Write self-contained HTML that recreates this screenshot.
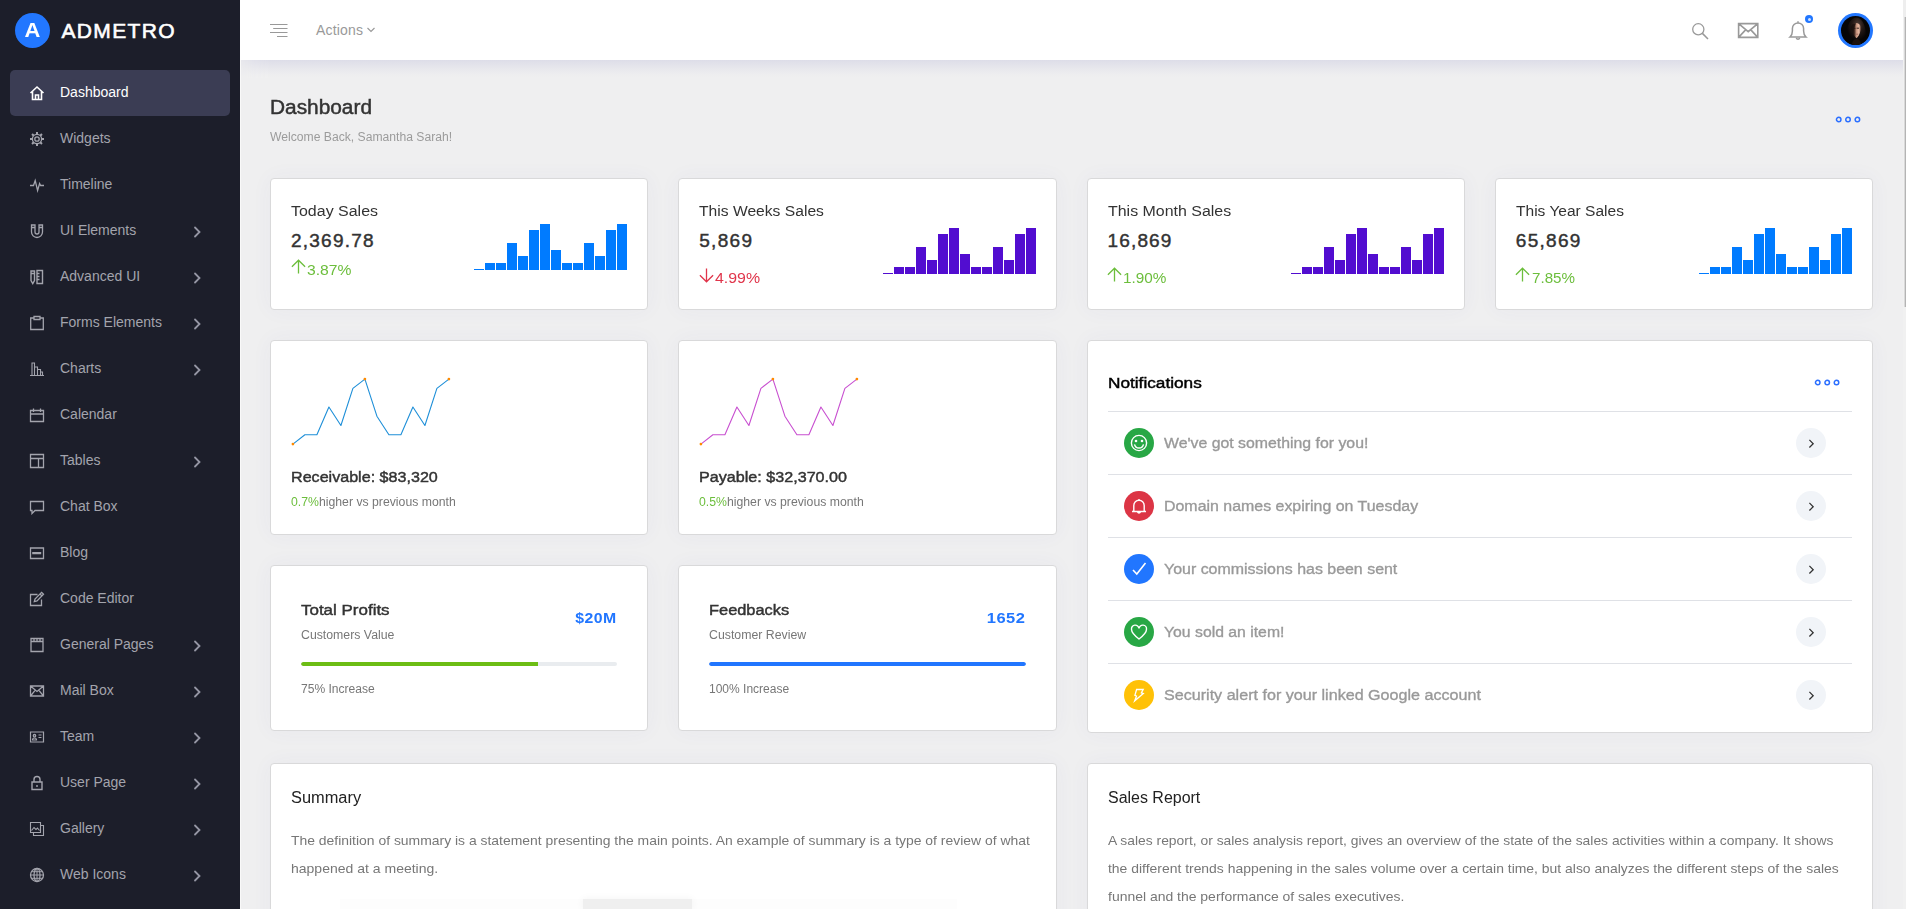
<!DOCTYPE html>
<html lang="en">
<head>
<meta charset="utf-8">
<title>Admetro - Dashboard</title>
<style>
*{box-sizing:border-box;margin:0;padding:0}
html,body{width:1906px;height:909px;overflow:hidden;background:#efeff0;font-family:"Liberation Sans",sans-serif;color:#333}
.abs{position:absolute}
#app{position:relative;width:1906px;height:909px;overflow:hidden;background:#efeff0}
/* sidebar */
#side{position:absolute;left:0;top:0;width:240px;height:909px;background:#1c1e2a;z-index:5}
.logo-c{position:absolute;left:15px;top:13px;width:35px;height:35px;border-radius:50%;background:#2277ff;color:#fff;font-weight:700;font-size:20.5px;line-height:34px;text-align:center}
.logo-c span{display:inline-block;transform:scaleX(1.07)}
.logo-t{position:absolute;left:61.5px;top:16px;height:30px;line-height:30px;color:#fff;font-weight:400;-webkit-text-stroke:.6px #fff;font-size:21px;letter-spacing:1.35px;white-space:nowrap}
.mi{position:absolute;left:10px;width:220px;height:46px;border-radius:5px;color:#a3a4ad;font-size:14px;line-height:46px;white-space:nowrap}
.mi.act{background:#3b3d54;color:#fff}
.mi .tx{position:absolute;left:50px;top:-1px}
.mi svg.ic{position:absolute;left:19px;top:15px;width:16px;height:16px;fill:none;stroke:currentColor;stroke-width:1.3}
.mi svg.ch{position:absolute;left:181.5px;top:18px;width:10px;height:12px;fill:none;stroke:#9596a4;stroke-width:1.8;stroke-linecap:round}
/* header */
#head{position:absolute;left:240px;top:0;width:1663px;height:60px;background:#fff;z-index:3}
#wl{position:absolute;left:240px;top:60px;width:1px;height:849px;background:#f9f9f9;z-index:4}
#hsh{position:absolute;left:240px;top:60px;width:1663px;height:18px;background:linear-gradient(to bottom,#dddde8 0,#e2e2ea 22%,#e8e8ed 50%,#ededef 78%,#efeff0 100%);z-index:2;-webkit-mask-image:linear-gradient(to right,rgba(0,0,0,.35) 0,rgba(0,0,0,.8) 14px,#000 30px);mask-image:linear-gradient(to right,rgba(0,0,0,.35) 0,rgba(0,0,0,.8) 14px,#000 30px)}
#sb{position:absolute;left:1903px;top:0;width:3px;height:909px;background:#f1f1f1;z-index:6}
#sb b{position:absolute;left:0;top:0;width:3px;height:17px;background:#eeeeee;display:block}
#sb i{position:absolute;left:1px;top:17px;width:2px;height:290px;background:linear-gradient(to right,#d9d9d9 0,#d9d9d9 50%,#b4b4b4 50%,#b4b4b4 100%);display:block}
.card{position:absolute;background:#fff;border:1px solid #d9d9da;border-radius:4px;box-shadow:0 0 22px rgba(80,80,160,.045)}
.t{position:absolute;white-space:nowrap}
</style>
</head>
<body>
<div id="app">

<!-- SIDEBAR -->
<div id="side">
  <div class="logo-c"><span>A</span></div>
  <div class="logo-t">ADMETRO</div>
  <div class="mi act" style="top:70px"><svg class="ic" viewBox="0 0 16 16" style="stroke-width:1.6"><path d="M1.5 8 L8 2 L14.5 8 M3.5 6.5 V14.5 H12.5 V6.5 M6.5 14.5 V10 H9.5 V14.5"/></svg><span class="tx">Dashboard</span></div>
  <div class="mi" style="top:116px"><svg class="ic" viewBox="0 0 16 16"><circle cx="8" cy="8" r="2.2"/><circle cx="8" cy="8" r="4.6"/><path d="M8 1v2.4M8 12.6V15M1 8h2.4M12.6 8H15M3.05 3.05l1.7 1.7M11.25 11.25l1.7 1.7M3.05 12.95l1.7-1.7M11.25 4.75l1.7-1.7" stroke-width="2"/></svg><span class="tx">Widgets</span></div>
  <div class="mi" style="top:162px"><svg class="ic" viewBox="0 0 16 16"><path d="M1 8.5 H4.5 L6.2 3.5 L8.6 13.5 L10.6 6.5 L11.6 8.5 H15"/></svg><span class="tx">Timeline</span></div>
  <div class="mi" style="top:208px"><svg class="ic" viewBox="0 0 16 16"><path d="M2.5 2 H6 V9 a2 2 0 0 0 4 0 V2 H13.5 V9 a5.5 5.5 0 0 1 -11 0 Z M2.5 4.5 H6 M10 4.5 H13.5"/></svg><span class="tx">UI Elements</span><svg class="ch" viewBox="0 0 10 12"><path d="M3 1.5 L7.5 6 L3 10.5"/></svg></div>
  <div class="mi" style="top:254px"><svg class="ic" viewBox="0 0 16 16"><path d="M2 2 H5.5 V11.5 L3.75 14.5 L2 11.5 Z M2 4.5 H5.5 M8 1.5 H13.5 V14.5 H8 Z M8 4.5 H10.5 M8 7.5 H10.5 M8 10.5 H10.5" stroke-width="1.4"/></svg><span class="tx">Advanced UI</span><svg class="ch" viewBox="0 0 10 12"><path d="M3 1.5 L7.5 6 L3 10.5"/></svg></div>
  <div class="mi" style="top:300px"><svg class="ic" viewBox="0 0 16 16"><path d="M5 3 H1.7 V14.5 H14.3 V3 H11 M5 1.5 H11 V4.5 H5 Z"/></svg><span class="tx">Forms Elements</span><svg class="ch" viewBox="0 0 10 12"><path d="M3 1.5 L7.5 6 L3 10.5"/></svg></div>
  <div class="mi" style="top:346px"><svg class="ic" viewBox="0 0 16 16"><path d="M1 14.5 H15 M3 14.5 V2 H5.5 V14.5 M5.5 6 H8.5 V14.5 M8.5 8.5 H11.5 V14.5 M11.5 11 H13.5 V14.5" stroke-width="1.1"/></svg><span class="tx">Charts</span><svg class="ch" viewBox="0 0 10 12"><path d="M3 1.5 L7.5 6 L3 10.5"/></svg></div>
  <div class="mi" style="top:392px"><svg class="ic" viewBox="0 0 16 16"><path d="M1.5 3.5 H14.5 V14.5 H1.5 Z M1.5 7 H14.5 M4.5 1.5 V5 M11.5 1.5 V5"/></svg><span class="tx">Calendar</span></div>
  <div class="mi" style="top:438px"><svg class="ic" viewBox="0 0 16 16"><path d="M1.5 1.5 H14.5 V14.5 H1.5 Z M1.5 5.5 H14.5 M9.5 5.5 V14.5"/></svg><span class="tx">Tables</span><svg class="ch" viewBox="0 0 10 12"><path d="M3 1.5 L7.5 6 L3 10.5"/></svg></div>
  <div class="mi" style="top:484px"><svg class="ic" viewBox="0 0 16 16"><path d="M1.5 2.5 H14.5 V11.5 H6 L3 14.5 V11.5 H1.5 Z"/></svg><span class="tx">Chat Box</span></div>
  <div class="mi" style="top:530px"><svg class="ic" viewBox="0 0 16 16"><path d="M1.5 3 H14.5 V13.5 H1.5 Z M3.2 8.6 H12.2 M3.2 7.6 H12.2" stroke-width="1.3"/></svg><span class="tx">Blog</span></div>
  <div class="mi" style="top:576px"><svg class="ic" viewBox="0 0 16 16"><path d="M12.5 8.5 V14.5 H1.5 V3.5 H8.5 M14.5 3.2 L12.6 1.3 L6 8 L5.3 10.7 L8 10 Z M11 3 L13 5"/></svg><span class="tx">Code Editor</span></div>
  <div class="mi" style="top:622px"><svg class="ic" viewBox="0 0 16 16"><path d="M2 1.5 H14 V14.5 H2 Z M2 4.5 H14 M5 1.5 V4.5 M8 1.5 V4.5 M11 1.5 V4.5"/></svg><span class="tx">General Pages</span><svg class="ch" viewBox="0 0 10 12"><path d="M3 1.5 L7.5 6 L3 10.5"/></svg></div>
  <div class="mi" style="top:668px"><svg class="ic" viewBox="0 0 16 16"><path d="M1.5 3 H14.5 V13 H1.5 Z M1.5 3 L8 8.5 L14.5 3 M1.5 13 L6.3 7.2 M14.5 13 L9.7 7.2"/></svg><span class="tx">Mail Box</span><svg class="ch" viewBox="0 0 10 12"><path d="M3 1.5 L7.5 6 L3 10.5"/></svg></div>
  <div class="mi" style="top:714px"><svg class="ic" viewBox="0 0 16 16"><path d="M1.5 3 H14.5 V13 H1.5 Z M3.5 11 a2 2 0 0 1 4 0 Z M9.5 6 H12.5 M9.5 8.5 H12.5" stroke-width="1.2"/><circle cx="5.5" cy="6.7" r="1.2"/></svg><span class="tx">Team</span><svg class="ch" viewBox="0 0 10 12"><path d="M3 1.5 L7.5 6 L3 10.5"/></svg></div>
  <div class="mi" style="top:760px"><svg class="ic" viewBox="0 0 16 16"><path d="M3 7 H13 V14.5 H3 Z M5 7 V4.5 a3 3 0 0 1 6 0 V7 M8 10 V12" stroke-width="1.4"/></svg><span class="tx">User Page</span><svg class="ch" viewBox="0 0 10 12"><path d="M3 1.5 L7.5 6 L3 10.5"/></svg></div>
  <div class="mi" style="top:806px"><svg class="ic" viewBox="0 0 16 16"><path d="M1.5 1.5 H11.5 V11.5 H1.5 Z M4.5 11.5 V14.5 H14.5 V4.5 H11.5 M2.5 9.5 L5 6.5 L7 8.5 L8.5 7 L10.5 9.5" stroke-width="1.1"/></svg><span class="tx">Gallery</span><svg class="ch" viewBox="0 0 10 12"><path d="M3 1.5 L7.5 6 L3 10.5"/></svg></div>
  <div class="mi" style="top:852px"><svg class="ic" viewBox="0 0 16 16"><circle cx="8" cy="8" r="6.5"/><ellipse cx="8" cy="8" rx="3" ry="6.5"/><path d="M1.5 8 H14.5 M8 1.5 V14.5 M2.5 4.7 H13.5 M2.5 11.3 H13.5" stroke-width="1"/></svg><span class="tx">Web Icons</span><svg class="ch" viewBox="0 0 10 12"><path d="M3 1.5 L7.5 6 L3 10.5"/></svg></div>
</div>

<!-- HEADER -->
<div id="head">
  <svg class="abs" style="left:30px;top:22px" width="19" height="16" viewBox="0 0 19 16"><path d="M0 2.5H17.5M3.2 6.5H17.5M0 10.5H17.5M7 14.5H17.5" stroke="#999" stroke-width="1" fill="none"/></svg>
  <div class="t" style="left:76px;top:19.6px;font-size:14px;line-height:20px;color:#999;letter-spacing:.17px">Actions</div>
  <svg class="abs" style="left:126px;top:26px" width="10" height="8" viewBox="0 0 10 8"><path d="M1.5 2 L5 5.5 L8.5 2" stroke="#999" stroke-width="1.15" fill="none"/></svg>
  <svg class="abs" style="left:1450px;top:21px" width="20" height="20" viewBox="0 0 20 20"><circle cx="8.3" cy="8.3" r="5.6" stroke="#999" stroke-width="1.3" fill="none"/><path d="M12.4 12.4 L18 18" stroke="#999" stroke-width="1.5"/></svg>
  <svg class="abs" style="left:1497px;top:22px" width="23" height="17" viewBox="0 0 23 17"><path d="M1.6 1.6 H20.8 V15.4 H1.6 Z M1.6 1.6 L11.2 9.6 L20.8 1.6 M1.6 15.4 L8.8 7.6 M20.8 15.4 L13.6 7.6" stroke="#999" stroke-width="1.6" fill="none"/></svg>
  <svg class="abs" style="left:1548px;top:20px" width="22" height="22" viewBox="0 0 22 22"><path d="M2 17 H18 C16 15.2 15.6 13.5 15.6 11 V8.5 a5.6 5.6 0 0 0 -11.2 0 V11 C4.4 13.5 4 15.2 2 17 Z M8.3 18 a1.8 1.8 0 0 0 3.4 0 M10 1.2 V3" stroke="#999" stroke-width="1.5" fill="none"/></svg>
  <div class="abs" style="left:1565px;top:15px;width:8px;height:8px;border-radius:50%;background:#2277ff;border:0"><i style="position:absolute;left:2.5px;top:2.5px;width:3px;height:3px;border-radius:50%;background:#cfe2ff;display:block"></i></div>
  <div class="abs" style="left:1598px;top:13px;width:35px;height:35px;border-radius:50%;background:#2277ff"></div>
  <svg class="abs" style="left:1601px;top:16px" width="29" height="29" viewBox="0 0 29 29"><defs><clipPath id="av"><circle cx="14.5" cy="14.5" r="14.5"/></clipPath><linearGradient id="fg" x1="0" x2="1" y1="0" y2="0"><stop offset="0" stop-color="#0d0706"/><stop offset=".3" stop-color="#3a241d"/><stop offset=".55" stop-color="#c9967f"/><stop offset=".8" stop-color="#e6b9a3"/><stop offset="1" stop-color="#8a6253"/></linearGradient><radialGradient id="hg" cx="58%" cy="28%" r="55%"><stop offset="0" stop-color="#54413a"/><stop offset=".5" stop-color="#241916"/><stop offset="1" stop-color="#070505"/></radialGradient></defs><g clip-path="url(#av)"><rect width="29" height="29" fill="#060505"/><path d="M5.5 29 C4 18 6 2.5 15.5 1.5 C24.5 2.5 26 18 24.5 29 Z" fill="url(#hg)"/><path d="M10.6 10.5 C11 6 19 5.8 19.6 10.8 C20 15 18.8 19.4 15.6 22.2 C12.4 20 10.2 15 10.6 10.5 Z" fill="url(#fg)"/><path d="M10.6 10.5 C11.5 8 14 7.5 15.2 7 C13.5 10 12 14 12.5 19 C11 16.5 10.3 13.5 10.6 10.5 Z" fill="#1c120f" opacity=".8"/><path d="M15.6 12.2 h2.4 M13 12.4 h1.4" stroke="#2a1712" stroke-width=".9"/><path d="M15.3 18.2 h2" stroke="#8c4d45" stroke-width=".7"/><path d="M10.8 29 C11 25.5 13 23 15.6 22.8 C18.3 23 20 25.5 20.2 29 Z" fill="#1a100d"/></g></svg>
</div>
<div id="hsh"></div>
<div id="wl"></div>
<div id="sb"><b></b><i></i></div>

<!-- CONTENT -->
<div class="t" style="left:270px;top:93.64px;font-size:19.5px;line-height:27px;color:#333;font-weight:400;transform:scaleX(1.0691);transform-origin:left center;-webkit-text-stroke:0.45px #333;">Dashboard</div>
<div class="t" style="left:270px;top:128.64px;font-size:12px;line-height:17px;color:#9b9b9b;font-weight:400;transform:scaleX(1.0129);transform-origin:left center;">Welcome Back, Samantha Sarah!</div>
<svg class="abs" style="left:1834px;top:115px" width="30" height="9" viewBox="0 0 30 9"><g fill="none" stroke="#2b6fff" stroke-width="1.5"><circle cx="4.7" cy="4.5" r="2.25"/><circle cx="14" cy="4.5" r="2.25"/><circle cx="23.4" cy="4.5" r="2.25"/></g></svg>
<div class="card" style="left:270px;top:178px;width:378px;height:132px"></div>
<div class="t" style="left:291px;top:199.83px;font-size:15.5px;line-height:22px;color:#333;font-weight:400;transform:scaleX(1.0302);transform-origin:left center;">Today Sales</div>
<div class="t" style="left:291px;top:226.92px;font-size:19px;line-height:27px;color:#333;font-weight:400;letter-spacing:1.233px;-webkit-text-stroke:0.45px #333;">2,369.78</div>
<svg class="abs" style="left:290.5px;top:259.0px" width="15" height="15" viewBox="0 0 15 15"><path d="M7.5 14.5 V1.5 M0.9 7.8 L7.5 1.2 L14.1 7.8" fill="none" stroke="#6cbe3c" stroke-width="1.3"/></svg>
<div class="t" style="left:306.8px;top:258.60px;font-size:15px;line-height:21px;color:#6cbe3c;font-weight:400;transform:scaleX(1.0459);transform-origin:left center;">3.87%</div>
<svg class="abs" style="left:474px;top:224px" width="153" height="46" viewBox="0 0 153 46" shape-rendering="crispEdges"><rect x="0" y="45" width="10" height="1" fill="#007bff"/><rect x="11" y="39" width="10" height="7" fill="#007bff"/><rect x="22" y="39" width="10" height="7" fill="#007bff"/><rect x="33" y="19" width="10" height="27" fill="#007bff"/><rect x="44" y="32" width="10" height="14" fill="#007bff"/><rect x="55" y="6" width="10" height="40" fill="#007bff"/><rect x="66" y="0" width="10" height="46" fill="#007bff"/><rect x="77" y="26" width="10" height="20" fill="#007bff"/><rect x="88" y="39" width="10" height="7" fill="#007bff"/><rect x="99" y="39" width="10" height="7" fill="#007bff"/><rect x="110" y="19" width="10" height="27" fill="#007bff"/><rect x="121" y="32" width="10" height="14" fill="#007bff"/><rect x="132" y="6" width="10" height="40" fill="#007bff"/><rect x="143" y="0" width="10" height="46" fill="#007bff"/></svg>
<div class="card" style="left:678px;top:178px;width:379px;height:132px"></div>
<div class="t" style="left:699.2px;top:199.83px;font-size:15.5px;line-height:22px;color:#333;font-weight:400;transform:scaleX(1.0092);transform-origin:left center;">This Weeks Sales</div>
<div class="t" style="left:699.2px;top:226.92px;font-size:19px;line-height:27px;color:#333;font-weight:400;letter-spacing:1.3383px;-webkit-text-stroke:0.45px #333;">5,869</div>
<svg class="abs" style="left:698.7px;top:268.0px" width="15" height="15" viewBox="0 0 15 15"><path d="M7.5 0.5 V13.5 M0.9 7.2 L7.5 13.8 L14.1 7.2" fill="none" stroke="#e0354b" stroke-width="1.3"/></svg>
<div class="t" style="left:715.0px;top:267.30px;font-size:15px;line-height:21px;color:#e0354b;font-weight:400;transform:scaleX(1.06);transform-origin:left center;">4.99%</div>
<svg class="abs" style="left:883px;top:228px" width="153" height="46" viewBox="0 0 153 46" shape-rendering="crispEdges"><rect x="0" y="45" width="10" height="1" fill="#520dd0"/><rect x="11" y="39" width="10" height="7" fill="#520dd0"/><rect x="22" y="39" width="10" height="7" fill="#520dd0"/><rect x="33" y="19" width="10" height="27" fill="#520dd0"/><rect x="44" y="32" width="10" height="14" fill="#520dd0"/><rect x="55" y="6" width="10" height="40" fill="#520dd0"/><rect x="66" y="0" width="10" height="46" fill="#520dd0"/><rect x="77" y="26" width="10" height="20" fill="#520dd0"/><rect x="88" y="39" width="10" height="7" fill="#520dd0"/><rect x="99" y="39" width="10" height="7" fill="#520dd0"/><rect x="110" y="19" width="10" height="27" fill="#520dd0"/><rect x="121" y="32" width="10" height="14" fill="#520dd0"/><rect x="132" y="6" width="10" height="40" fill="#520dd0"/><rect x="143" y="0" width="10" height="46" fill="#520dd0"/></svg>
<div class="card" style="left:1087px;top:178px;width:378px;height:132px"></div>
<div class="t" style="left:1107.5px;top:199.83px;font-size:15.5px;line-height:22px;color:#333;font-weight:400;transform:scaleX(1.0288);transform-origin:left center;">This Month Sales</div>
<div class="t" style="left:1107.5px;top:226.92px;font-size:19px;line-height:27px;color:#333;font-weight:400;letter-spacing:1.155px;-webkit-text-stroke:0.45px #333;">16,869</div>
<svg class="abs" style="left:1107.0px;top:267.0px" width="15" height="15" viewBox="0 0 15 15"><path d="M7.5 14.5 V1.5 M0.9 7.8 L7.5 1.2 L14.1 7.8" fill="none" stroke="#6cbe3c" stroke-width="1.3"/></svg>
<div class="t" style="left:1123.3px;top:267.30px;font-size:15px;line-height:21px;color:#6cbe3c;font-weight:400;transform:scaleX(1.0201);transform-origin:left center;">1.90%</div>
<svg class="abs" style="left:1291px;top:228px" width="153" height="46" viewBox="0 0 153 46" shape-rendering="crispEdges"><rect x="0" y="45" width="10" height="1" fill="#520dd0"/><rect x="11" y="39" width="10" height="7" fill="#520dd0"/><rect x="22" y="39" width="10" height="7" fill="#520dd0"/><rect x="33" y="19" width="10" height="27" fill="#520dd0"/><rect x="44" y="32" width="10" height="14" fill="#520dd0"/><rect x="55" y="6" width="10" height="40" fill="#520dd0"/><rect x="66" y="0" width="10" height="46" fill="#520dd0"/><rect x="77" y="26" width="10" height="20" fill="#520dd0"/><rect x="88" y="39" width="10" height="7" fill="#520dd0"/><rect x="99" y="39" width="10" height="7" fill="#520dd0"/><rect x="110" y="19" width="10" height="27" fill="#520dd0"/><rect x="121" y="32" width="10" height="14" fill="#520dd0"/><rect x="132" y="6" width="10" height="40" fill="#520dd0"/><rect x="143" y="0" width="10" height="46" fill="#520dd0"/></svg>
<div class="card" style="left:1495px;top:178px;width:378px;height:132px"></div>
<div class="t" style="left:1515.8px;top:199.83px;font-size:15.5px;line-height:22px;color:#333;font-weight:400;transform:scaleX(1.0026);transform-origin:left center;">This Year Sales</div>
<div class="t" style="left:1515.8px;top:226.92px;font-size:19px;line-height:27px;color:#333;font-weight:400;letter-spacing:1.295px;-webkit-text-stroke:0.45px #333;">65,869</div>
<svg class="abs" style="left:1515.3px;top:267.0px" width="15" height="15" viewBox="0 0 15 15"><path d="M7.5 14.5 V1.5 M0.9 7.8 L7.5 1.2 L14.1 7.8" fill="none" stroke="#6cbe3c" stroke-width="1.3"/></svg>
<div class="t" style="left:1531.6px;top:267.30px;font-size:15px;line-height:21px;color:#6cbe3c;font-weight:400;transform:scaleX(1.0107);transform-origin:left center;">7.85%</div>
<svg class="abs" style="left:1699px;top:228px" width="153" height="46" viewBox="0 0 153 46" shape-rendering="crispEdges"><rect x="0" y="45" width="10" height="1" fill="#007bff"/><rect x="11" y="39" width="10" height="7" fill="#007bff"/><rect x="22" y="39" width="10" height="7" fill="#007bff"/><rect x="33" y="19" width="10" height="27" fill="#007bff"/><rect x="44" y="32" width="10" height="14" fill="#007bff"/><rect x="55" y="6" width="10" height="40" fill="#007bff"/><rect x="66" y="0" width="10" height="46" fill="#007bff"/><rect x="77" y="26" width="10" height="20" fill="#007bff"/><rect x="88" y="39" width="10" height="7" fill="#007bff"/><rect x="99" y="39" width="10" height="7" fill="#007bff"/><rect x="110" y="19" width="10" height="27" fill="#007bff"/><rect x="121" y="32" width="10" height="14" fill="#007bff"/><rect x="132" y="6" width="10" height="40" fill="#007bff"/><rect x="143" y="0" width="10" height="46" fill="#007bff"/></svg>
<div class="card" style="left:270px;top:340px;width:378px;height:195px"></div>
<svg class="abs" style="left:290px;top:376px" width="164" height="72" viewBox="0 0 164 72"><polyline points="2.9,68.1 14.9,58.8 26.9,58.8 38.9,31.0 50.9,49.5 62.9,12.4 74.9,3.1 86.9,40.2 98.9,58.8 110.9,58.8 122.9,31.0 134.9,49.5 146.9,12.4 158.9,3.1" fill="none" stroke="#1e8fd8" stroke-width="1.1" stroke-linejoin="round"/><circle cx="2.9" cy="68.1" r="1.35" fill="#ff8a00"/><circle cx="74.9" cy="3.1" r="1.35" fill="#ff8a00"/><circle cx="158.9" cy="3.1" r="1.35" fill="#ff8a00"/></svg>
<div class="t" style="left:291px;top:465.73px;font-size:15.5px;line-height:22px;color:#333;font-weight:400;transform:scaleX(1.0387);transform-origin:left center;-webkit-text-stroke:0.45px #333;">Receivable: $83,320</div>
<div class="t" style="left:291px;top:493.64px;font-size:12px;line-height:17px;color:#777;font-weight:400;transform:scaleX(1.0208);transform-origin:left center;"><span style="color:#6cbe3c">0.7%</span>higher vs previous month</div>
<div class="card" style="left:678px;top:340px;width:379px;height:195px"></div>
<svg class="abs" style="left:698px;top:376px" width="164" height="72" viewBox="0 0 164 72"><polyline points="2.9,68.1 14.9,58.8 26.9,58.8 38.9,31.0 50.9,49.5 62.9,12.4 74.9,3.1 86.9,40.2 98.9,58.8 110.9,58.8 122.9,31.0 134.9,49.5 146.9,12.4 158.9,3.1" fill="none" stroke="#c84fd0" stroke-width="1.1" stroke-linejoin="round"/><circle cx="2.9" cy="68.1" r="1.35" fill="#ff8a00"/><circle cx="74.9" cy="3.1" r="1.35" fill="#ff8a00"/><circle cx="158.9" cy="3.1" r="1.35" fill="#ff8a00"/></svg>
<div class="t" style="left:699.2px;top:465.73px;font-size:15.5px;line-height:22px;color:#333;font-weight:400;transform:scaleX(1.0408);transform-origin:left center;-webkit-text-stroke:0.45px #333;">Payable: $32,370.00</div>
<div class="t" style="left:699.2px;top:493.64px;font-size:12px;line-height:17px;color:#777;font-weight:400;transform:scaleX(1.0208);transform-origin:left center;"><span style="color:#6cbe3c">0.5%</span>higher vs previous month</div>
<div class="card" style="left:270px;top:565px;width:378px;height:166px"></div>
<div class="t" style="left:301.25px;top:598.53px;font-size:15.5px;line-height:22px;color:#333;font-weight:400;transform:scaleX(1.094);transform-origin:left center;-webkit-text-stroke:0.45px #333;">Total Profits</div>
<div class="t" style="left:301.25px;top:626.94px;font-size:12px;line-height:17px;color:#777;font-weight:400;transform:scaleX(1.0246);transform-origin:left center;">Customers Value</div>
<div class="t" style="right:1289.5px;top:606.83px;font-size:15.5px;line-height:22px;color:#2176ff;font-weight:700;transform:scaleX(1.0201);transform-origin:right center;letter-spacing:.5px;">$20M</div>
<div class="abs" style="left:301.25px;top:662px;width:315.75px;height:4px;border-radius:2px;background:#e9ecef;overflow:hidden"><div style="width:75%;height:4px;background:#6cbd14;border-radius:2px 0 0 2px"></div></div>
<div class="t" style="left:301.25px;top:680.94px;font-size:12px;line-height:17px;color:#777;font-weight:400;transform:scaleX(1.0056);transform-origin:left center;">75% Increase</div>
<div class="card" style="left:678px;top:565px;width:379px;height:166px"></div>
<div class="t" style="left:709px;top:598.53px;font-size:15.5px;line-height:22px;color:#333;font-weight:400;transform:scaleX(1.0577);transform-origin:left center;-webkit-text-stroke:0.45px #333;">Feedbacks</div>
<div class="t" style="left:709px;top:626.94px;font-size:12px;line-height:17px;color:#777;font-weight:400;transform:scaleX(1.0264);transform-origin:left center;">Customer Review</div>
<div class="t" style="right:880.4000000000001px;top:606.83px;font-size:15.5px;line-height:22px;color:#2176ff;font-weight:700;transform:scaleX(1.0635);transform-origin:right center;letter-spacing:.5px;">1652</div>
<div class="abs" style="left:709px;top:662px;width:317px;height:4px;border-radius:2px;background:#e9ecef;overflow:hidden"><div style="width:100%;height:4px;background:#2176ff;border-radius:2px"></div></div>
<div class="t" style="left:709px;top:680.94px;font-size:12px;line-height:17px;color:#777;font-weight:400;transform:scaleX(1.0017);transform-origin:left center;">100% Increase</div>
<div class="card" style="left:1087px;top:340px;width:786px;height:393px"></div>
<div class="t" style="left:1108px;top:371.53px;font-size:15.5px;line-height:22px;color:#000;font-weight:400;transform:scaleX(1.1109);transform-origin:left center;-webkit-text-stroke:0.45px #000;">Notifications</div>
<svg class="abs" style="left:1813px;top:378px" width="30" height="9" viewBox="0 0 30 9"><g fill="none" stroke="#2b6fff" stroke-width="1.5"><circle cx="4.7" cy="4.5" r="2.25"/><circle cx="14.2" cy="4.5" r="2.25"/><circle cx="23.5" cy="4.5" r="2.25"/></g></svg>
<div class="abs" style="left:1108px;top:411px;width:744px;height:1px;background:#dfe1e6"></div>
<svg class="abs" style="left:1124px;top:428px" width="30" height="30" viewBox="0 0 30 30"><circle cx="15" cy="15" r="15" fill="#28a745"/><circle cx="15" cy="15" r="7.6" fill="none" stroke="#fff" stroke-width="1.4"/><circle cx="12" cy="13" r="1.3" fill="#fff"/><circle cx="18" cy="13" r="1.3" fill="#fff"/><path d="M10.5 16.3 a4.6 4.6 0 0 0 9 0" fill="none" stroke="#fff" stroke-width="1.4"/></svg>
<div class="t" style="left:1164px;top:432.03px;font-size:15.5px;line-height:22px;color:#999;font-weight:400;transform:scaleX(1.0221);transform-origin:left center;-webkit-text-stroke:0.35px #999;">We've got something for you!</div>
<svg class="abs" style="left:1796px;top:428px" width="30" height="30" viewBox="0 0 30 30"><circle cx="15" cy="15" r="15" fill="#f1f4f8"/><path d="M13.4 11.9 L17.2 15.7 L13.4 19.5" fill="none" stroke="#333" stroke-width="1.25"/></svg>
<div class="abs" style="left:1108px;top:474px;width:744px;height:1px;background:#dfe1e6"></div>
<svg class="abs" style="left:1124px;top:491px" width="30" height="30" viewBox="0 0 30 30"><circle cx="15" cy="15" r="15" fill="#dc3545"/><path d="M8 20.5 H22 M9.8 20.5 V14.5 a5.2 5.2 0 0 1 10.4 0 V20.5 M13.6 21 a1.5 1.5 0 0 0 2.8 0 M15 8 V9.3" fill="none" stroke="#fff" stroke-width="1.4"/></svg>
<div class="t" style="left:1164px;top:495.03px;font-size:15.5px;line-height:22px;color:#999;font-weight:400;transform:scaleX(1.0276);transform-origin:left center;-webkit-text-stroke:0.35px #999;">Domain names expiring on Tuesday</div>
<svg class="abs" style="left:1796px;top:491px" width="30" height="30" viewBox="0 0 30 30"><circle cx="15" cy="15" r="15" fill="#f1f4f8"/><path d="M13.4 11.9 L17.2 15.7 L13.4 19.5" fill="none" stroke="#333" stroke-width="1.25"/></svg>
<div class="abs" style="left:1108px;top:537px;width:744px;height:1px;background:#dfe1e6"></div>
<svg class="abs" style="left:1124px;top:554px" width="30" height="30" viewBox="0 0 30 30"><circle cx="15" cy="15" r="15" fill="#2176ff"/><path d="M9 16 L12.8 20 L21.5 9" fill="none" stroke="#fff" stroke-width="1.6"/></svg>
<div class="t" style="left:1164px;top:558.03px;font-size:15.5px;line-height:22px;color:#999;font-weight:400;transform:scaleX(1.0282);transform-origin:left center;-webkit-text-stroke:0.35px #999;">Your commissions has been sent</div>
<svg class="abs" style="left:1796px;top:554px" width="30" height="30" viewBox="0 0 30 30"><circle cx="15" cy="15" r="15" fill="#f1f4f8"/><path d="M13.4 11.9 L17.2 15.7 L13.4 19.5" fill="none" stroke="#333" stroke-width="1.25"/></svg>
<div class="abs" style="left:1108px;top:600px;width:744px;height:1px;background:#dfe1e6"></div>
<svg class="abs" style="left:1124px;top:617px" width="30" height="30" viewBox="0 0 30 30"><circle cx="15" cy="15" r="15" fill="#28a745"/><path d="M15 22 C9 17.5 7.5 14.5 7.5 12.3 a3.6 3.6 0 0 1 7.5 -0.8 a3.6 3.6 0 0 1 7.5 0.8 C22.5 14.5 21 17.5 15 22 Z" fill="none" stroke="#fff" stroke-width="1.4"/></svg>
<div class="t" style="left:1164px;top:621.03px;font-size:15.5px;line-height:22px;color:#999;font-weight:400;transform:scaleX(1.0174);transform-origin:left center;-webkit-text-stroke:0.35px #999;">You sold an item!</div>
<svg class="abs" style="left:1796px;top:617px" width="30" height="30" viewBox="0 0 30 30"><circle cx="15" cy="15" r="15" fill="#f1f4f8"/><path d="M13.4 11.9 L17.2 15.7 L13.4 19.5" fill="none" stroke="#333" stroke-width="1.25"/></svg>
<div class="abs" style="left:1108px;top:663px;width:744px;height:1px;background:#dfe1e6"></div>
<svg class="abs" style="left:1124px;top:680px" width="30" height="30" viewBox="0 0 30 30"><circle cx="15" cy="15" r="15" fill="#ffc107"/><path d="M12.6 9.5 H19.2 L17.3 12.9 L19.3 13.6 L10.7 20.8 L12.5 16 L10.9 15.3 Z" fill="none" stroke="#fff" stroke-width="1.3" stroke-linejoin="miter"/></svg>
<div class="t" style="left:1164px;top:684.03px;font-size:15.5px;line-height:22px;color:#999;font-weight:400;transform:scaleX(1.039);transform-origin:left center;-webkit-text-stroke:0.35px #999;">Security alert for your linked Google account</div>
<svg class="abs" style="left:1796px;top:680px" width="30" height="30" viewBox="0 0 30 30"><circle cx="15" cy="15" r="15" fill="#f1f4f8"/><path d="M13.4 11.9 L17.2 15.7 L13.4 19.5" fill="none" stroke="#333" stroke-width="1.25"/></svg>
<div class="card" style="left:270px;top:763px;width:787px;height:200px"></div>
<div class="t" style="left:291px;top:786.86px;font-size:16px;line-height:22px;color:#222;font-weight:400;transform:scaleX(1.0241);transform-origin:left center;">Summary</div>
<div class="t" style="left:291px;top:830.72px;font-size:13.5px;line-height:19px;color:#777;font-weight:400;transform:scaleX(1.031);transform-origin:left center;">The definition of summary is a statement presenting the main points. An example of summary is a type of review of what</div>
<div class="t" style="left:291px;top:858.72px;font-size:13.5px;line-height:19px;color:#777;font-weight:400;transform:scaleX(1.0375);transform-origin:left center;">happened at a meeting.</div>
<div class="abs" style="left:340px;top:899px;width:617px;height:10px;background:#fdfdfd"></div><div class="abs" style="left:583px;top:899px;width:109px;height:10px;background:#efefef;box-shadow:0 0 8px rgba(0,0,0,.05)"></div>
<div class="card" style="left:1087px;top:763px;width:786px;height:200px"></div>
<div class="t" style="left:1108px;top:786.86px;font-size:16px;line-height:22px;color:#222;font-weight:400;transform:scaleX(0.9978);transform-origin:left center;">Sales Report</div>
<div class="t" style="left:1108px;top:830.72px;font-size:13.5px;line-height:19px;color:#777;font-weight:400;transform:scaleX(1.0268);transform-origin:left center;">A sales report, or sales analysis report, gives an overview of the state of the sales activities within a company. It shows</div>
<div class="t" style="left:1108px;top:858.72px;font-size:13.5px;line-height:19px;color:#777;font-weight:400;transform:scaleX(1.0311);transform-origin:left center;">the different trends happening in the sales volume over a certain time, but also analyzes the different steps of the sales</div>
<div class="t" style="left:1108px;top:886.72px;font-size:13.5px;line-height:19px;color:#777;font-weight:400;transform:scaleX(1.0339);transform-origin:left center;">funnel and the performance of sales executives.</div>

</div>
</body>
</html>
